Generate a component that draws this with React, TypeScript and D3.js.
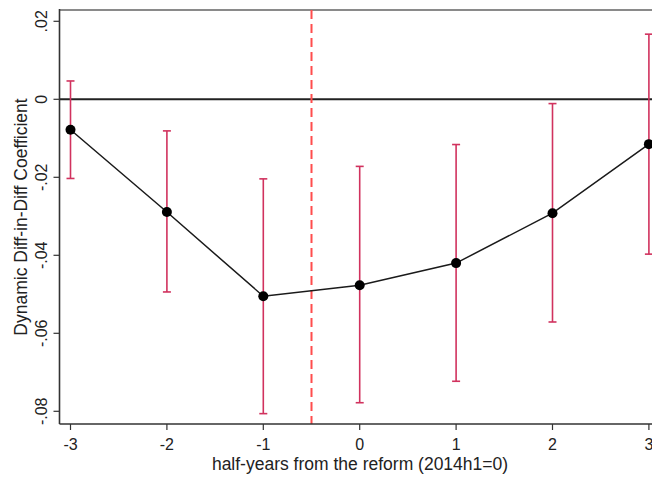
import React from "react";
import * as d3 from "d3";

const periods = [-3, -2, -1, 0, 1, 2, 3];
const coef = [-0.0078, -0.0289, -0.0505, -0.0477, -0.042, -0.0292, -0.0115];
const ciLow = [-0.0203, -0.0494, -0.0806, -0.0778, -0.0723, -0.0571, -0.0397];
const ciHigh = [0.0047, -0.0081, -0.0204, -0.0172, -0.0116, -0.0011, 0.0167];
const yTicks = [0.02, 0, -0.02, -0.04, -0.06, -0.08];
const yTickLabels = [".02", "0", "-.02", "-.04", "-.06", "-.08"];
const xTicks = [-3, -2, -1, 0, 1, 2, 3];
const reformLine = -0.5;

export default function App() {
  const W = 652, H = 477;
  const left = 59.5, right = 660, top = 10, bottom = 424;
  const x = d3.scaleLinear().domain([-3, 3]).range([70.5, 648.9]);
  const y = d3.scaleLinear().domain([0, -0.02]).range([99.3, 177.3]);
  const line = d3.line<number>().x((_, i) => x(periods[i])).y((d) => y(d));
  const errColor = "#d1325e";
  const font = "Arial, 'Liberation Sans', sans-serif";
  return (
    <svg width={W} height={H} style={{ position: "absolute", left: 0, top: 0, background: "#fff" }}>
      <rect x={0} y={0} width={W} height={H} fill="#fff" />
      <line x1={left} x2={right} y1={top} y2={top} stroke="#8a8a8a" strokeWidth={2} />
      <line x1={left} x2={right} y1={y(0)} y2={y(0)} stroke="#222" strokeWidth={2} />
      <line x1={x(reformLine)} x2={x(reformLine)} y1={top} y2={bottom} stroke="#ff4d4d" strokeWidth={2} strokeDasharray="9,5" />
      {periods.map((p, i) => (
        <g key={"e" + i} stroke={errColor} strokeWidth={1.6}>
          <line x1={x(p)} x2={x(p)} y1={y(ciHigh[i])} y2={y(ciLow[i])} />
          <line x1={x(p) - 4} x2={x(p) + 4} y1={y(ciHigh[i])} y2={y(ciHigh[i])} />
          <line x1={x(p) - 4} x2={x(p) + 4} y1={y(ciLow[i])} y2={y(ciLow[i])} />
        </g>
      ))}
      <path d={line(coef) || ""} fill="none" stroke="#1a1a1a" strokeWidth={1.5} />
      {periods.map((p, i) => (
        <circle key={"c" + i} cx={x(p)} cy={y(coef[i])} r={5} fill="#000" />
      ))}
      <line x1={left} x2={left} y1={top - 1} y2={bottom} stroke="#333" strokeWidth={1.6} />
      <line x1={left} x2={right} y1={bottom} y2={bottom} stroke="#333" strokeWidth={1.6} />
      {yTicks.map((t, i) => (
        <g key={"yt" + i}>
          <line x1={left - 6} x2={left} y1={y(t)} y2={y(t)} stroke="#333" strokeWidth={1.2} />
          <text
            transform={`translate(${left - 13},${y(t)}) rotate(-90)`}
            textAnchor="middle"
            fontFamily={font}
            fontSize={16}
            fill="#222"
          >
            {yTickLabels[i]}
          </text>
        </g>
      ))}
      {xTicks.map((t, i) => (
        <g key={"xt" + i}>
          <line x1={x(t)} x2={x(t)} y1={bottom} y2={bottom + 6} stroke="#333" strokeWidth={1.2} />
          <text x={x(t)} y={bottom + 26} textAnchor="middle" fontFamily={font} fontSize={16} fill="#222">
            {String(t)}
          </text>
        </g>
      ))}
      <text x={360} y={470} textAnchor="middle" fontFamily={font} fontSize={17.5} fill="#222">
        half-years from the reform (2014h1=0)
      </text>
      <text
        transform={`translate(27,${(top + bottom) / 2}) rotate(-90)`}
        textAnchor="middle"
        fontFamily={font}
        fontSize={17.5}
        fill="#222"
      >
        Dynamic Diff-in-Diff Coefficient
      </text>
    </svg>
  );
}
